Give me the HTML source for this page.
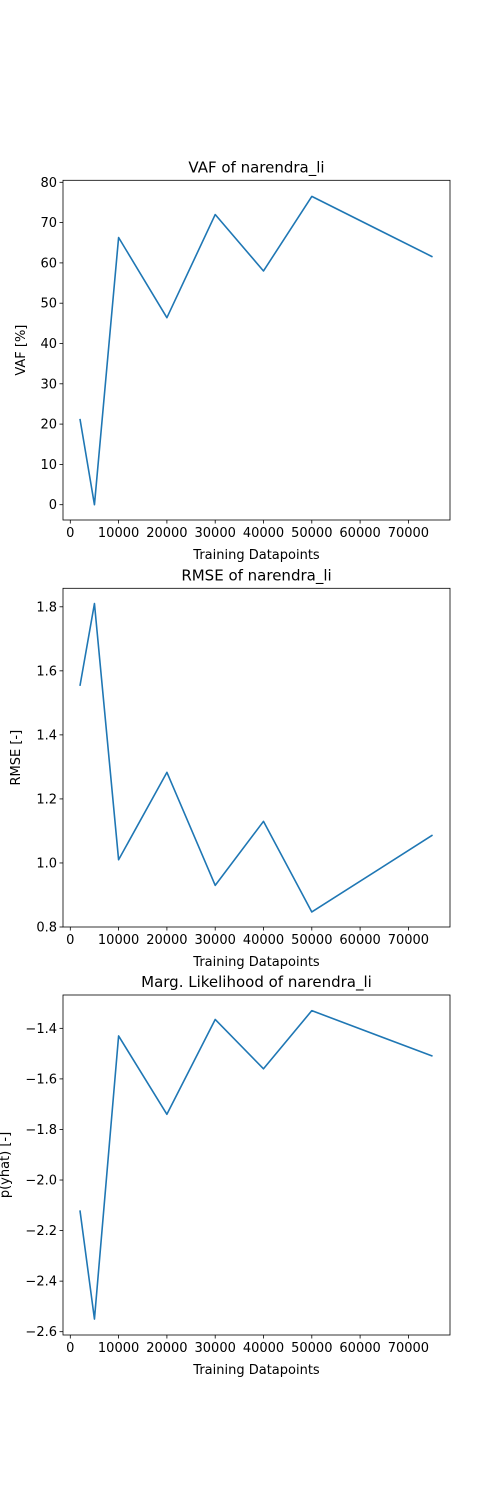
<!DOCTYPE html>
<html><head><meta charset="utf-8"><style>
body{margin:0;background:#fff}
svg{display:block;font-family:"DejaVu Sans","Liberation Sans",sans-serif}
</style></head><body>
<svg width="500" height="1500" viewBox="0 0 500 1500" id="fig"></svg>
<script>
const xsData = [2000, 5000, 10000, 20000, 30000, 40000, 50000, 75000];
const vafValues = [21.3, 0, 66.3, 46.4, 72, 58, 76.5, 61.5];
const rmseValues = [1.553, 1.81, 1.01, 1.283, 0.93, 1.13, 0.847, 1.087];
const mlValues = [-2.12, -2.55, -1.43, -1.74, -1.365, -1.56, -1.33, -1.51];
const xTicks = [0, 10000, 20000, 30000, 40000, 50000, 60000, 70000];
const vafTicks = [0, 10, 20, 30, 40, 50, 60, 70, 80];
const rmseTicks = [0.8, 1.0, 1.2, 1.4, 1.6, 1.8];
const mlTicks = [-2.6, -2.4, -2.2, -2.0, -1.8, -1.6, -1.4];

const NS = "http://www.w3.org/2000/svg";
const svg = document.getElementById('fig');
function mk(tag, attrs, parent){const e=document.createElementNS(NS,tag);for(const k in attrs)e.setAttribute(k,attrs[k]);(parent||svg).appendChild(e);return e;}

function panel(cfg){
  const g = mk('g',{});
  
  
  const L=63,R=450,T=cfg.top,B=cfg.bottom;
  const xs = v => 70.3 + (v/10000)*48.3;
  const ys = v => cfg.y0px + (v - cfg.y0)*cfg.scale;
  xTicks.forEach(t=>{
    const x=xs(t);
    mk('line',{x1:x,x2:x,y1:B,y2:B+3.5,stroke:'#000','stroke-width':0.8},g);
    const tx=mk('text',{x:x,y:B+17,'font-size':13,'text-anchor':'middle',fill:'#000'},g);
    tx.textContent=String(t);
    
    
  });
  cfg.ticks.forEach(t=>{
    const y=ys(t);
    mk('line',{x1:L,x2:L-3.5,y1:y,y2:y,stroke:'#000','stroke-width':0.8},g);
    const tx=mk('text',{x:L-6,y:y+4.5,'font-size':13,'text-anchor':'end',fill:'#000'},g);
    tx.textContent=cfg.fmt(t);
    
    
  });
  const pts = xsData.map((x,i)=>xs(x).toFixed(2)+','+ys(cfg.values[i]).toFixed(2)).join(' ');
  const pl = mk('polyline',{points:pts,fill:'none',stroke:'#1f77b4','stroke-width':1.6,'stroke-linejoin':'round'},g);
  
  
  mk('rect',{x:L,y:T,width:R-L,height:B-T,fill:'none',stroke:'#000','stroke-width':0.8},g);
  const ti=mk('text',{x:256.5,y:T-8,'font-size':15,'text-anchor':'middle',fill:'#000'},g);
  ti.textContent=cfg.title;
  
  
  const xl=mk('text',{x:256.5,y:B+39,'font-size':13,'text-anchor':'middle',fill:'#000'},g);
  xl.textContent='Training Datapoints';
  
  
  const cy=(T+B)/2;
  const yl=mk('text',{x:cfg.ylx,y:cy,'font-size':13,'text-anchor':'middle',fill:'#000',transform:`rotate(-90 ${cfg.ylx} ${cy})`},g);
  yl.textContent=cfg.ylabel;
  
  
}
panel({name:'vaf-panel',top:180.3,bottom:520,y0:0,y0px:504.7,scale:-4.03,values:vafValues,ticks:vafTicks,fmt:t=>String(t),title:'VAF of narendra_li',ylabel:'VAF [%]',ylx:25});
panel({name:'rmse-panel',top:588.3,bottom:927,y0:0.8,y0px:927,scale:-320.2,values:rmseValues,ticks:rmseTicks,fmt:t=>t.toFixed(1),title:'RMSE of narendra_li',ylabel:'RMSE [-]',ylx:20});
panel({name:'likelihood-panel',top:995,bottom:1335,y0:-2.6,y0px:1331.7,scale:-252.8,values:mlValues,ticks:mlTicks,fmt:t=>'\u2212'+Math.abs(t).toFixed(1),title:'Marg. Likelihood of narendra_li',ylabel:'p(yhat) [-]',ylx:9});
</script>
</body></html>
